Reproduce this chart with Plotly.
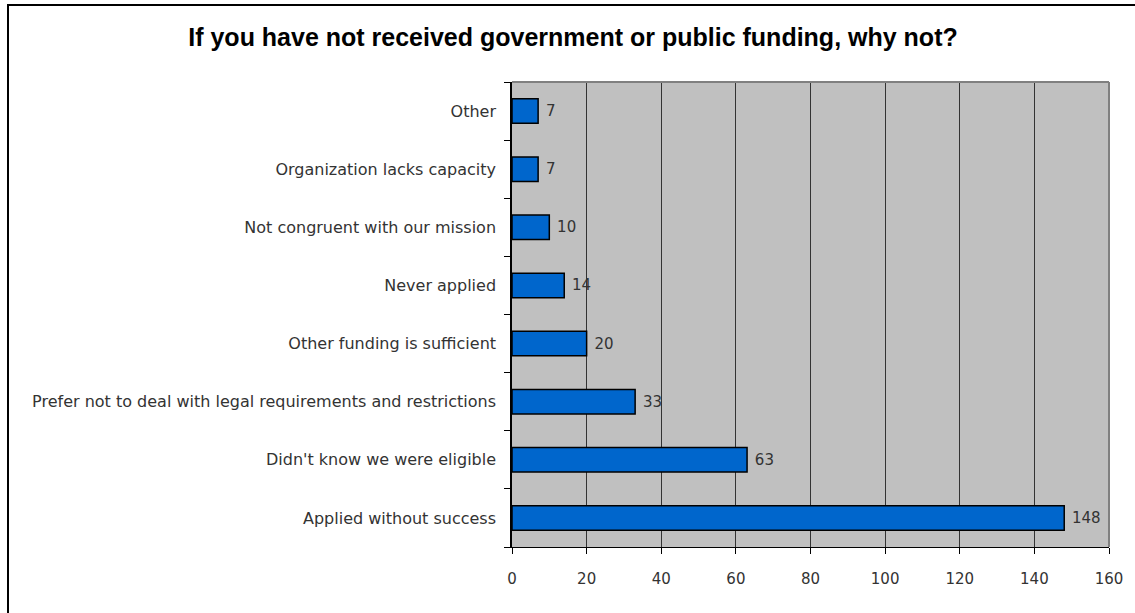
import plotly.graph_objects as go

# Survey responses: reasons for not receiving government or public funding
categories = [
    "Applied without success",
    "Didn't know we were eligible",
    "Prefer not to deal with legal requirements and restrictions",
    "Other funding is sufficient",
    "Never applied",
    "Not congruent with our mission",
    "Organization lacks capacity",
    "Other",
]
counts = [148, 63, 33, 20, 14, 10, 7, 7]
x_ticks = [0, 20, 40, 60, 80, 100, 120, 140, 160]

W, H = 1135, 613
L, R, T, B = 512, 26, 82, 66
pw, ph = W - L - R, H - T - B


def px_x(p):
    return (p - L) / pw


def px_y(p):
    return (H - B - p) / ph


cat_font = dict(family="DejaVu Sans", size=16, color="#333333")
num_font = dict(family="DejaVu Sans", size=15, color="#333333")

fig = go.Figure(
    go.Bar(
        x=counts,
        y=categories,
        orientation="h",
        marker=dict(color="#0066CC", line=dict(color="#000000", width=1.5)),
        text=[str(v) for v in counts],
        texttemplate=" %{text}",
        textposition="outside",
        textfont=num_font,
        cliponaxis=False,
        width=0.42,
    )
)

fig.update_layout(
    width=W,
    height=H,
    margin=dict(l=L, r=R, t=T, b=B, autoexpand=False),
    paper_bgcolor="white",
    plot_bgcolor="#C0C0C0",
    showlegend=False,
    title=dict(
        text="<b>If you have not received government or public funding, why not?</b>",
        x=573 / W,
        xanchor="center",
        y=1 - 37 / H,
        yanchor="middle",
        font=dict(family="Liberation Sans", size=25, color="#000000"),
    ),
    xaxis=dict(
        range=[0, 160],
        tickvals=x_ticks,
        showgrid=True,
        gridcolor="#333333",
        gridwidth=1,
        zeroline=False,
        showline=True,
        linecolor="#000000",
        linewidth=1,
        ticks="outside",
        ticklen=6,
        tickcolor="#000000",
        tickfont=num_font,
        ticklabelstandoff=12,
        fixedrange=True,
    ),
    yaxis=dict(
        categoryorder="array",
        categoryarray=categories,
        tickson="boundaries",
        ticks="outside",
        ticklen=6,
        tickcolor="#000000",
        showgrid=False,
        showline=True,
        linecolor="#000000",
        linewidth=1.5,
        tickfont=cat_font,
        ticklabelstandoff=11,
        fixedrange=True,
    ),
    shapes=[
        # top and right border of the plot area
        dict(type="line", xref="paper", yref="paper", x0=0, x1=1, y0=1, y1=1,
             line=dict(color="#808080", width=2)),
        dict(type="line", xref="paper", yref="paper", x0=1, x1=1, y0=0, y1=1,
             line=dict(color="#808080", width=2)),
        # outer chart frame
        dict(type="rect", xref="paper", yref="paper",
             x0=px_x(8), x1=px_x(1145), y0=px_y(5), y1=px_y(630),
             line=dict(color="#000000", width=2), fillcolor="rgba(0,0,0,0)",
             layer="above"),
    ],
)

fig.write_html("out.html")
